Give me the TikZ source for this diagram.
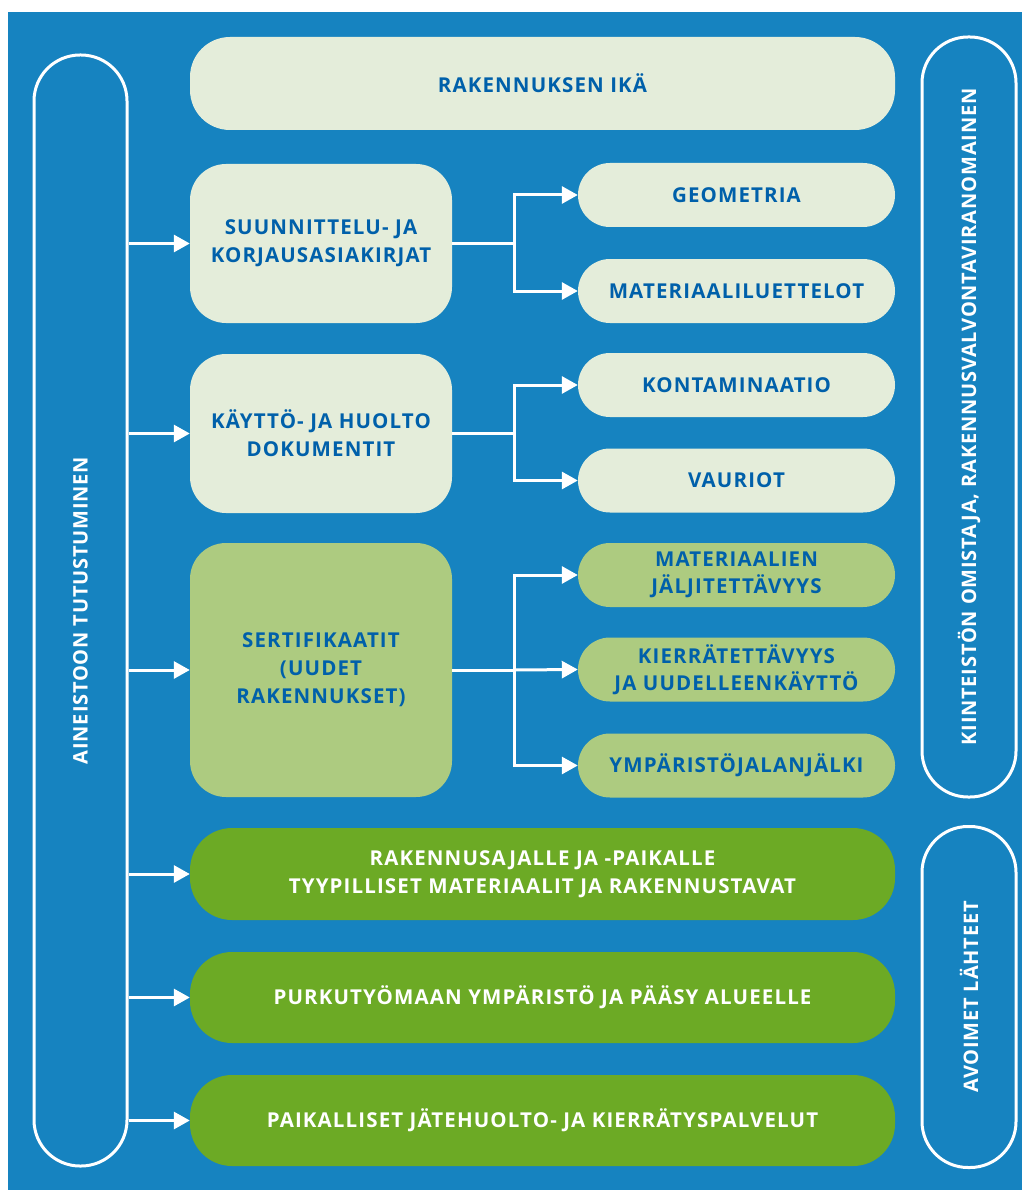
\documentclass[tikz,border=0pt]{standalone}
\usepackage{fontspec}
\setmainfont{Open Sans}
\newfontfamily\boxfont{Open Sans}[LetterSpace=5.5]
\newfontfamily\vfont{Open Sans}[LetterSpace=4]
\usetikzlibrary{arrows.meta}
\definecolor{bgblue}{RGB}{22,131,192}
\definecolor{lightfill}{RGB}{228,237,218}
\definecolor{midgreen}{RGB}{173,203,128}
\definecolor{darkgreen}{RGB}{108,170,37}
\definecolor{txtblue}{RGB}{0,96,170}
\tikzset{
  txt/.style={font=\boxfont\bfseries\fontsize{20.5}{28}\selectfont},
  box/.style={txt, draw=none, align=center, inner sep=0pt},
  lightbox/.style={box, fill=lightfill, text=txtblue},
  midbox/.style={box, fill=midgreen, text=txtblue},
  greenbox/.style={box, fill=darkgreen, text=white},
  outline/.style={draw=white, line width=3pt, fill=none, inner sep=0pt},
  vtext/.style={font=\vfont\bfseries\fontsize{20}{28}\selectfont, text=white, rotate=90},
  conn/.style={draw=white, line width=3pt},
  arr/.style={conn, -{Triangle[length=16pt,width=17pt]}},
}
\begin{document}
\begin{tikzpicture}[x=1pt,y=-1pt]
\useasboundingbox (0,0) rectangle (1022,1190);
\fill[bgblue] (8,12) rectangle (1022,1190);
% outlined pills
\node[outline, rounded corners=46pt, minimum width=93pt, minimum height=1111pt] (lp) at (80.5,610.5) {};
\node[vtext] (lpt) at (lp.center) {AINEISTOON TUTUSTUMINEN};
\node[outline, rounded corners=46pt, minimum width=94pt, minimum height=760pt] (rp1) at (969,417) {};
\node[vtext] (rp1t) at (rp1.center) {KIINTEISTÖN OMISTAJA, RAKENNUSVALVONTAVIRANOMAINEN};
\node[outline, rounded corners=46pt, minimum width=94pt, minimum height=341pt] (rp2) at (969,997) {};
\node[vtext] (rp2t) at (rp2.center) {AVOIMET LÄHTEET};
% top
\node[lightbox, rounded corners=40pt, minimum width=705pt, minimum height=93pt] (top) at (542.5,83.5) {RAKENNUKSEN IKÄ};
% left boxes
\node[lightbox, rounded corners=36pt, minimum width=262pt, minimum height=159pt] (suun) at (321,243.5) {SUUNNITTELU- JA\\KORJAUSASIAKIRJAT};
\node[lightbox, rounded corners=36pt, minimum width=262pt, minimum height=159pt] (kayt) at (321,433.5) {KÄYTTÖ- JA HUOLTO\\DOKUMENTIT};
\node[midbox, rounded corners=36pt, minimum width=262pt, minimum height=254pt] (sert) at (321,670) {SERTIFIKAATIT\\(UUDET\\RAKENNUKSET)};
% right pills
\node[lightbox, rounded corners=32pt, minimum width=317pt, minimum height=64pt] (geom) at (736.5,195) {GEOMETRIA};
\node[lightbox, rounded corners=32pt, minimum width=317pt, minimum height=64pt] (matl) at (736.5,291) {MATERIAALILUETTELOT};
\node[lightbox, rounded corners=32pt, minimum width=317pt, minimum height=64pt] (kont) at (736.5,385) {KONTAMINAATIO};
\node[lightbox, rounded corners=32pt, minimum width=317pt, minimum height=64pt] (vaur) at (736.5,480.5) {VAURIOT};
\node[midbox, rounded corners=32pt, minimum width=317pt, minimum height=64pt, font=\boxfont\bfseries\fontsize{20.5}{27}\selectfont] (jalj) at (736.5,575) {MATERIAALIEN\\JÄLJITETTÄVYYS};
\node[midbox, rounded corners=32pt, minimum width=317pt, minimum height=64pt, font=\boxfont\bfseries\fontsize{20.5}{27}\selectfont] (kierr) at (736.5,669.5) {KIERRÄTETTÄVYYS\\JA UUDELLEENKÄYTTÖ};
\node[midbox, rounded corners=32pt, minimum width=317pt, minimum height=64pt] (ymp) at (736.5,765.5) {YMPÄRISTÖJALANJÄLKI};
% green bars
\node[greenbox, rounded corners=42pt, minimum width=705pt, minimum height=92pt] (rak) at (542.5,874) {RAKENNUSAJALLE JA -PAIKALLE\\TYYPILLISET MATERIAALIT JA RAKENNUSTAVAT};
\node[greenbox, rounded corners=42pt, minimum width=705pt, minimum height=91pt] (purk) at (542.5,997.5) {PURKUTYÖMAAN YMPÄRISTÖ JA PÄÄSY ALUEELLE};
\node[greenbox, rounded corners=42pt, minimum width=705pt, minimum height=91pt] (paik) at (542.5,1120.5) {PAIKALLISET JÄTEHUOLTO- JA KIERRÄTYSPALVELUT};
% arrows from left pill
\foreach \t in {suun,kayt,sert,rak,purk,paik}{
  \draw[arr] (lp.east |- \t.west) -- (\t.west);
}
% branches
\coordinate (b1) at (514,243.5);
\coordinate (b2) at (514,433.5);
\coordinate (b3) at (514,670);
\draw[conn] (suun.east) -- (b1);
\draw[arr] (b1) |- (geom.west);
\draw[arr] (b1) |- (matl.west);
\draw[conn] (kayt.east) -- (b2);
\draw[arr] (b2) |- (kont.west);
\draw[arr] (b2) |- (vaur.west);
\draw[conn] (sert.east) -- (b3);
\draw[arr] (b3) |- (jalj.west);
\draw[arr] (b3) -- (kierr.west);
\draw[arr] (b3) |- (ymp.west);
\end{tikzpicture}
\end{document}
